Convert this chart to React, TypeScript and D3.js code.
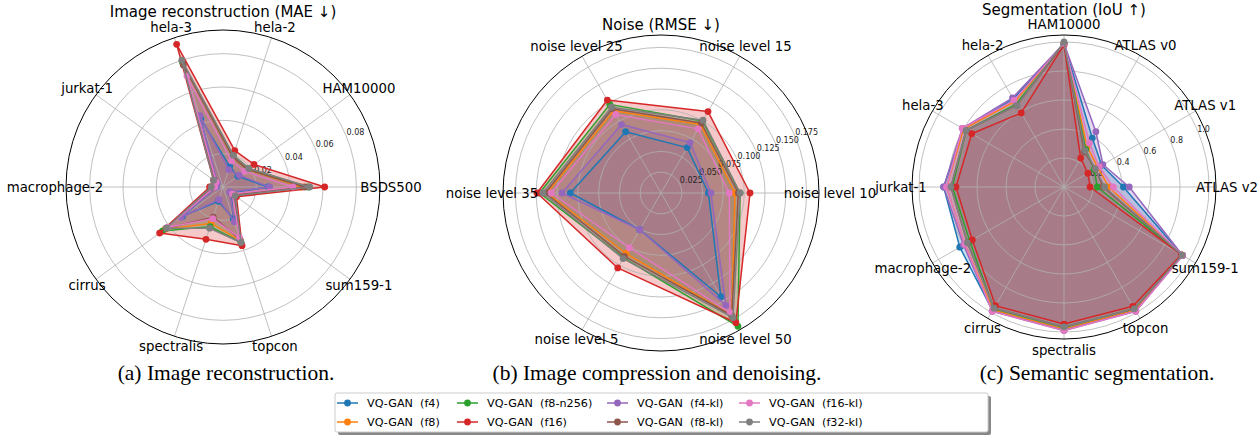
import React from "react";
import * as d3 from "d3";

// ---------- Legend / series ----------
const seriesNames = [
  "VQ-GAN  (f4)",
  "VQ-GAN  (f8)",
  "VQ-GAN  (f8-n256)",
  "VQ-GAN  (f16)",
  "VQ-GAN  (f4-kl)",
  "VQ-GAN  (f8-kl)",
  "VQ-GAN  (f16-kl)",
  "VQ-GAN  (f32-kl)",
];
const seriesColors = ["#1f77b4", "#ff7f0e", "#2ca02c", "#d62728", "#9467bd", "#8c564b", "#e377c2", "#7f7f7f"];

// ---------- (a) Image reconstruction (MAE) ----------
const reconCategories = ["BSDS500", "HAM10000", "hela-2", "hela-3", "jurkat-1", "macrophage-2", "cirrus", "spectralis", "topcon", "sum159-1"];
const reconTicks = [0.02, 0.04, 0.06, 0.08];
const reconTickLabels = ["0.02", "0.04", "0.06", "0.08"];
const reconF4 = [0.027, 0.011, 0.013, 0.043, 0.005, 0.004, 0.030, 0.009, 0.020, 0.006];
const reconF8 = [0.047, 0.018, 0.019, 0.078, 0.006, 0.006, 0.043, 0.023, 0.034, 0.008];
const reconF8n256 = [0.051, 0.019, 0.020, 0.079, 0.006, 0.007, 0.045, 0.025, 0.035, 0.009];
const reconF16 = [0.061, 0.023, 0.023, 0.090, 0.007, 0.008, 0.047, 0.033, 0.037, 0.010];
const reconF4kl = [0.028, 0.012, 0.011, 0.045, 0.004, 0.004, 0.031, 0.008, 0.022, 0.005];
const reconF8kl = [0.049, 0.018, 0.019, 0.077, 0.006, 0.006, 0.042, 0.019, 0.033, 0.008];
const reconF16kl = [0.042, 0.016, 0.0165, 0.070, 0.005, 0.005, 0.041, 0.020, 0.032, 0.007];
const reconF32kl = [0.052, 0.019, 0.020, 0.080, 0.007, 0.007, 0.042, 0.026, 0.035, 0.009];

// ---------- (b) Noise (RMSE) ----------
const noiseCategories = ["noise level 10", "noise level 15", "noise level 25", "noise level 35", "noise level 5", "noise level 50"];
const noiseTicks = [0.025, 0.05, 0.075, 0.1, 0.125, 0.15, 0.175];
const noiseTickLabels = ["0.025", "0.050", "0.075", "0.100", "0.125", "0.150", "0.175"];
const noiseF4 = [0.057, 0.063, 0.085, 0.109, 0.051, 0.144];
const noiseF8 = [0.089, 0.095, 0.114, 0.137, 0.084, 0.170];
const noiseF8n256 = [0.095, 0.100, 0.123, 0.146, 0.090, 0.185];
const noiseF16 = [0.107, 0.113, 0.129, 0.149, 0.104, 0.180];
const noiseF4kl = [0.060, 0.070, 0.095, 0.119, 0.051, 0.156];
const noiseF8kl = [0.093, 0.097, 0.117, 0.139, 0.088, 0.170];
const noiseF16kl = [0.082, 0.089, 0.109, 0.132, 0.076, 0.166];
const noiseF32kl = [0.095, 0.101, 0.119, 0.142, 0.091, 0.173];

// ---------- (c) Segmentation (IoU) ----------
const segCategories = ["HAM10000", "ATLAS v0", "ATLAS v1", "ATLAS v2", "sum159-1", "topcon", "spectralis", "cirrus", "macrophage-2", "jurkat-1", "hela-3", "hela-2"];
const segTicks = [0.2, 0.4, 0.6, 0.8, 1.0];
const segTickLabels = ["0.2", "0.4", "0.6", "0.8", "1.0"];
const segF4 = [0.99, 0.39, 0.30, 0.41, 0.945, 0.985, 0.985, 0.985, 0.83, 0.83, 0.80, 0.70];
const segF8 = [0.99, 0.32, 0.27, 0.31, 0.94, 0.98, 0.98, 0.98, 0.79, 0.81, 0.80, 0.68];
const segF8n256 = [0.99, 0.30, 0.24, 0.23, 0.94, 0.97, 0.97, 0.97, 0.75, 0.77, 0.78, 0.66];
const segF16 = [0.98, 0.23, 0.19, 0.18, 0.935, 0.95, 0.945, 0.945, 0.73, 0.745, 0.735, 0.59];
const segF4kl = [0.99, 0.44, 0.31, 0.45, 0.945, 0.99, 0.99, 0.99, 0.80, 0.83, 0.81, 0.71];
const segF8kl = [0.99, 0.28, 0.25, 0.27, 0.94, 0.97, 0.965, 0.965, 0.77, 0.78, 0.78, 0.65];
const segF16kl = [0.99, 0.35, 0.28, 0.34, 0.945, 0.99, 0.99, 0.99, 0.79, 0.81, 0.81, 0.69];
const segF32kl = [1.0, 0.29, 0.25, 0.28, 0.94, 0.97, 0.965, 0.965, 0.77, 0.78, 0.78, 0.65];

const FONT = "DejaVu Sans";

type RadarProps = {
  cx: number;
  cy: number;
  R: number;
  rmax: number;
  categories: string[];
  startDeg: number; // math angle (ccw from east) of first category
  dirSign: number; // +1 ccw, -1 cw
  ticks: number[];
  tickLabels: string[];
  tickOffset: number;
  title: string;
  titleY: number;
  series: number[][];
};

function Radar(p: RadarProps) {
  const r = d3.scaleLinear().domain([0, p.rmax]).range([0, p.R]);
  const n = p.categories.length;
  const angleDeg = (i: number) => p.startDeg + p.dirSign * (360 / n) * i;
  const rad = (deg: number) => (deg * Math.PI) / 180;
  const pos = (deg: number, rr: number) => [p.cx + rr * Math.cos(rad(deg)), p.cy - rr * Math.sin(rad(deg))];
  // d3 radial: 0 at 12 o'clock, clockwise
  const line = d3
    .lineRadial<number>()
    .angle((_, i) => Math.PI / 2 - rad(angleDeg(i)))
    .radius((v) => r(v))
    .curve(d3.curveLinearClosed);

  const labelR = p.R + 11;
  const tickAng = 22.5;
  return (
    <g>
      {/* fills */}
      <g transform={`translate(${p.cx},${p.cy})`}>
        {p.series.map((s, k) => (
          <path key={k} d={line(s) || ""} fill={seriesColors[k]} fillOpacity={0.25} stroke="none" />
        ))}
      </g>
      {/* grid */}
      {p.ticks.map((t, i) => (
        <circle key={i} cx={p.cx} cy={p.cy} r={r(t)} fill="none" stroke="#b0b0b0" strokeWidth={0.8} />
      ))}
      {p.categories.map((c, i) => {
        const [x, y] = pos(angleDeg(i), p.R);
        return <line key={c} x1={p.cx} y1={p.cy} x2={x} y2={y} stroke="#b0b0b0" strokeWidth={0.8} />;
      })}
      <circle cx={p.cx} cy={p.cy} r={p.R} fill="none" stroke="#000" strokeWidth={1} />
      {/* radial tick labels */}
      {p.ticks.map((t, i) => {
        const [x, y] = pos(tickAng, r(t) + p.tickOffset);
        return (
          <text key={i} x={x} y={y} fontSize={8} fontFamily={FONT} textAnchor="middle" dominantBaseline="central" fill="#222">
            {p.tickLabels[i]}
          </text>
        );
      })}
      {/* lines and markers */}
      <g transform={`translate(${p.cx},${p.cy})`}>
        {p.series.map((s, k) => (
          <g key={k}>
            <path d={line(s) || ""} fill="none" stroke={seriesColors[k]} strokeWidth={1.5} strokeLinejoin="round" />
            {s.map((v, i) => {
              const a = rad(angleDeg(i));
              return <circle key={i} cx={r(v) * Math.cos(a)} cy={-r(v) * Math.sin(a)} r={3.4} fill={seriesColors[k]} />;
            })}
          </g>
        ))}
      </g>
      {/* category labels */}
      {p.categories.map((c, i) => {
        const [x, y] = pos(angleDeg(i), labelR);
        return (
          <text key={c} x={x} y={y} fontSize={13.3} fontFamily={FONT} textAnchor="middle" dominantBaseline="central" fill="#000">
            {c}
          </text>
        );
      })}
      <text x={p.cx} y={p.titleY} fontSize={15} fontFamily={FONT} textAnchor="middle" dominantBaseline="central" fill="#000">
        {p.title}
      </text>
    </g>
  );
}

const legendCols = [337, 457, 607, 739];
const legendRows = [403, 422];

export default function App() {
  const recon = [reconF4, reconF8, reconF8n256, reconF16, reconF4kl, reconF8kl, reconF16kl, reconF32kl];
  const noise = [noiseF4, noiseF8, noiseF8n256, noiseF16, noiseF4kl, noiseF8kl, noiseF16kl, noiseF32kl];
  const seg = [segF4, segF8, segF8n256, segF16, segF4kl, segF8kl, segF16kl, segF32kl];
  return (
    <svg width={1259} height={438} style={{ position: "absolute", left: 0, top: 0, background: "#fff" }}>
      <rect x={0} y={0} width={1259} height={438} fill="#fff" />
      <Radar cx={223} cy={187} R={157} rmax={157 / 1666.7} categories={reconCategories} startDeg={0} dirSign={1}
        ticks={reconTicks} tickLabels={reconTickLabels} tickOffset={10} title="Image reconstruction (MAE ↓)" titleY={12} series={recon} />
      <Radar cx={661} cy={193} R={158} rmax={158 / 832} categories={noiseCategories} startDeg={0} dirSign={1}
        ticks={noiseTicks} tickLabels={noiseTickLabels} tickOffset={12} title="Noise (RMSE ↓)" titleY={25} series={noise} />
      <Radar cx={1064} cy={187} R={152} rmax={152 / 145} categories={segCategories} startDeg={90} dirSign={-1}
        ticks={segTicks} tickLabels={segTickLabels} tickOffset={6} title="Segmentation (IoU ↑)" titleY={10} series={seg} />

      {/* captions */}
      <g fontFamily="Liberation Serif" fontSize={21.5} textAnchor="middle" fill="#000">
        <text x={226} y={380}>(a) Image reconstruction.</text>
        <text x={657} y={380}>(b) Image compression and denoising.</text>
        <text x={1097} y={380}>(c) Semantic segmentation.</text>
      </g>

      {/* legend */}
      <rect x={338} y={396} width={653} height={39} rx={2} fill="#888" />
      <rect x={335} y={393} width={653} height={39} rx={2} fill="#fff" stroke="#ccc" strokeWidth={1} />
      {seriesNames.map((name, k) => {
        const col = Math.floor(k / 2);
        const row = k % 2;
        const x0 = legendCols[col];
        const y0 = legendRows[row];
        return (
          <g key={name}>
            <line x1={x0} y1={y0} x2={x0 + 21} y2={y0} stroke={seriesColors[k]} strokeWidth={1.5} />
            <circle cx={x0 + 10.5} cy={y0} r={3.4} fill={seriesColors[k]} />
            <text x={x0 + 30} y={y0} fontSize={11.2} fontFamily={FONT} dominantBaseline="central" style={{ whiteSpace: "pre" }} fill="#000">
              {name}
            </text>
          </g>
        );
      })}
    </svg>
  );
}
